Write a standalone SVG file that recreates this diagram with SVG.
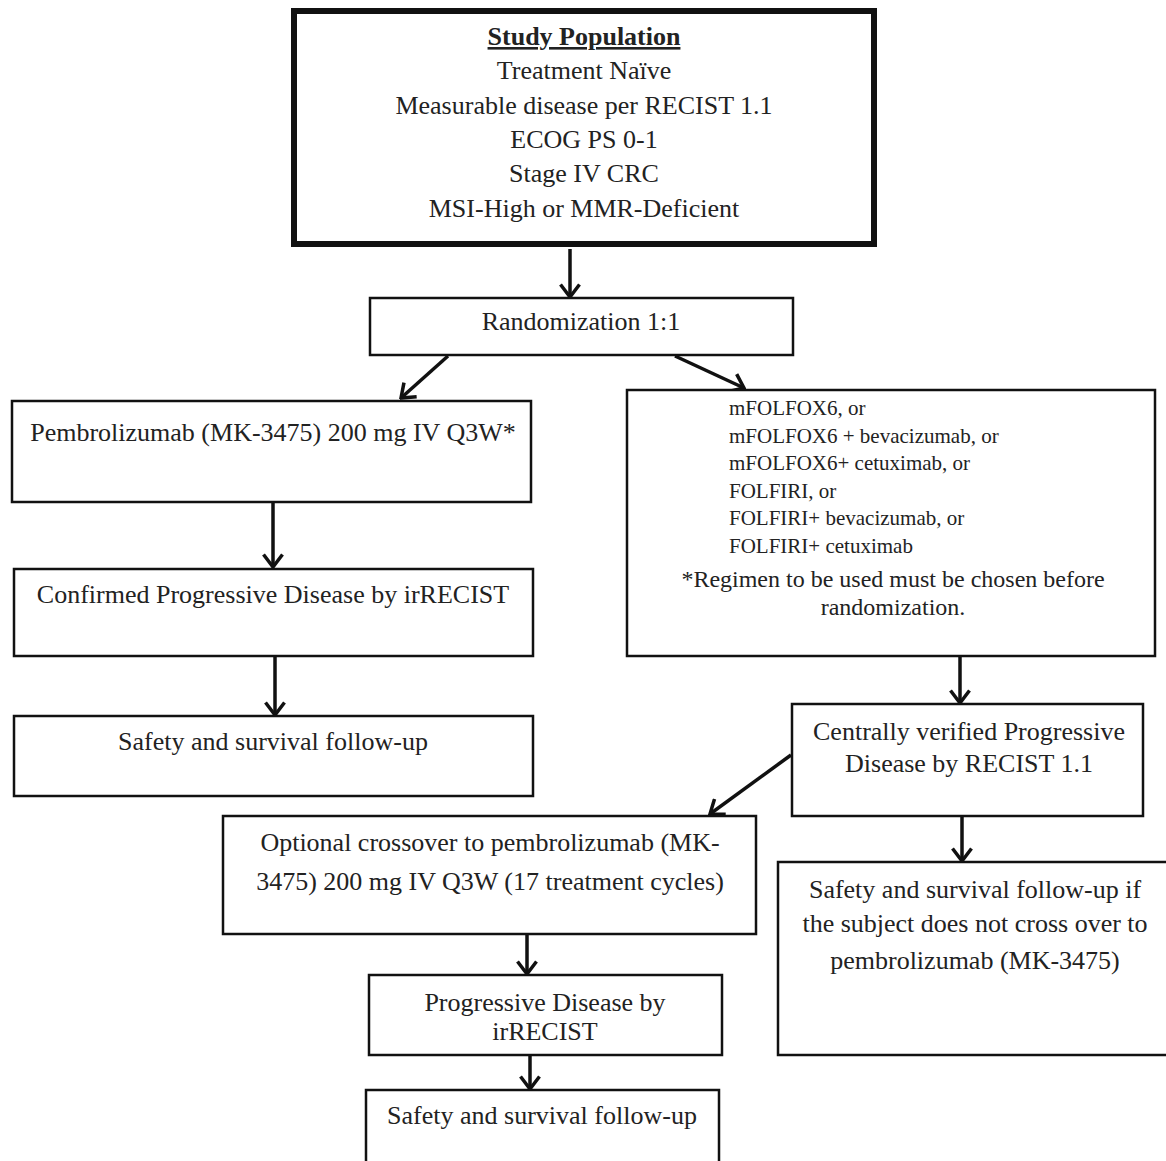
<svg xmlns="http://www.w3.org/2000/svg" width="1166" height="1161" viewBox="0 0 1166 1161">
<defs>
<style>
.box{fill:#fff;stroke:#111;stroke-width:2.5}
.thick{fill:#fff;stroke:#111;stroke-width:6}
.t{font-family:"Liberation Serif","Times New Roman",serif;font-size:26px;fill:#222;text-anchor:middle}
.s{font-family:"Liberation Serif","Times New Roman",serif;font-size:21px;fill:#222}
.m{font-family:"Liberation Serif","Times New Roman",serif;font-size:24px;fill:#222;text-anchor:middle}
.b{font-weight:bold;text-decoration:underline}
.c{stroke:#111;stroke-width:3.5;fill:none;marker-end:url(#ah)}
</style>
<marker id="ah" viewBox="0 0 16 22" refX="14" refY="11" markerWidth="16" markerHeight="22" markerUnits="userSpaceOnUse" orient="auto">
<path d="M1.5,1.5 L14,11 L1.5,20.5" fill="none" stroke="#111" stroke-width="3.5"/>
</marker>
</defs>
<rect width="1166" height="1161" fill="#fff"/>

<g id="connectors">
<line class="c" x1="570" y1="249" x2="570" y2="297"/>
<line class="c" x1="448" y1="356" x2="401" y2="398"/>
<line class="c" x1="675" y1="356" x2="744" y2="388"/>
<line class="c" x1="273" y1="503" x2="273" y2="567"/>
<line class="c" x1="275" y1="657" x2="275" y2="715"/>
<line class="c" x1="960" y1="657" x2="960" y2="703"/>
<line class="c" x1="791" y1="755" x2="710" y2="814"/>
<line class="c" x1="962" y1="817" x2="962" y2="861"/>
<line class="c" x1="527" y1="935" x2="527" y2="974"/>
<line class="c" x1="530" y1="1056" x2="530" y2="1089"/>
</g>

<g id="study-population">
<rect class="thick" x="294" y="11" width="580" height="233"/>
<text class="t b" x="584" y="45">Study Population</text>
<text class="t" x="584" y="79">Treatment Naïve</text>
<text class="t" x="584" y="114">Measurable disease per RECIST 1.1</text>
<text class="t" x="584" y="148">ECOG PS 0-1</text>
<text class="t" x="584" y="182">Stage IV CRC</text>
<text class="t" x="584" y="217">MSI-High or MMR-Deficient</text>
</g>

<g id="randomization">
<rect class="box" x="370" y="298" width="423" height="57"/>
<text class="t" x="581" y="330">Randomization 1:1</text>
</g>

<g id="pembrolizumab">
<rect class="box" x="12" y="401" width="519" height="101"/>
<text class="t" x="273" y="441">Pembrolizumab (MK-3475) 200 mg IV Q3W*</text>
</g>

<g id="confirmed-pd">
<rect class="box" x="14" y="569" width="519" height="87"/>
<text class="t" x="273" y="603">Confirmed Progressive Disease by irRECIST</text>
</g>

<g id="safety-left">
<rect class="box" x="14" y="716" width="519" height="80"/>
<text class="t" x="273" y="750">Safety and survival follow-up</text>
</g>

<g id="chemo">
<rect class="box" x="627" y="390" width="528" height="266"/>
<text class="s" x="729" y="415">mFOLFOX6, or</text>
<text class="s" x="729" y="443">mFOLFOX6 + bevacizumab, or</text>
<text class="s" x="729" y="470">mFOLFOX6+ cetuximab, or</text>
<text class="s" x="729" y="498">FOLFIRI, or</text>
<text class="s" x="729" y="525">FOLFIRI+ bevacizumab, or</text>
<text class="s" x="729" y="553">FOLFIRI+ cetuximab</text>
<text class="m" x="893" y="587">*Regimen to be used must be chosen before</text>
<text class="m" x="893" y="615">randomization.</text>
</g>

<g id="centrally-verified">
<rect class="box" x="792" y="704" width="351" height="112"/>
<text class="t" x="969" y="740">Centrally verified Progressive</text>
<text class="t" x="969" y="772">Disease by RECIST 1.1</text>
</g>

<g id="crossover">
<rect class="box" x="223" y="816" width="533" height="118"/>
<text class="t" x="490" y="851">Optional crossover to pembrolizumab (MK-</text>
<text class="t" x="490" y="890">3475) 200 mg IV Q3W (17 treatment cycles)</text>
</g>

<g id="safety-right">
<rect class="box" x="778" y="862" width="390" height="193"/>
<text class="t" x="975" y="898">Safety and survival follow-up if</text>
<text class="t" x="975" y="932">the subject does not cross over to</text>
<text class="t" x="975" y="969">pembrolizumab (MK-3475)</text>
</g>

<g id="pd-irrecist">
<rect class="box" x="369" y="975" width="353" height="80"/>
<text class="t" x="545" y="1011">Progressive Disease by</text>
<text class="t" x="545" y="1040">irRECIST</text>
</g>

<g id="safety-bottom">
<rect class="box" x="366" y="1090" width="353" height="80"/>
<text class="t" x="542" y="1124">Safety and survival follow-up</text>
</g>
</svg>
